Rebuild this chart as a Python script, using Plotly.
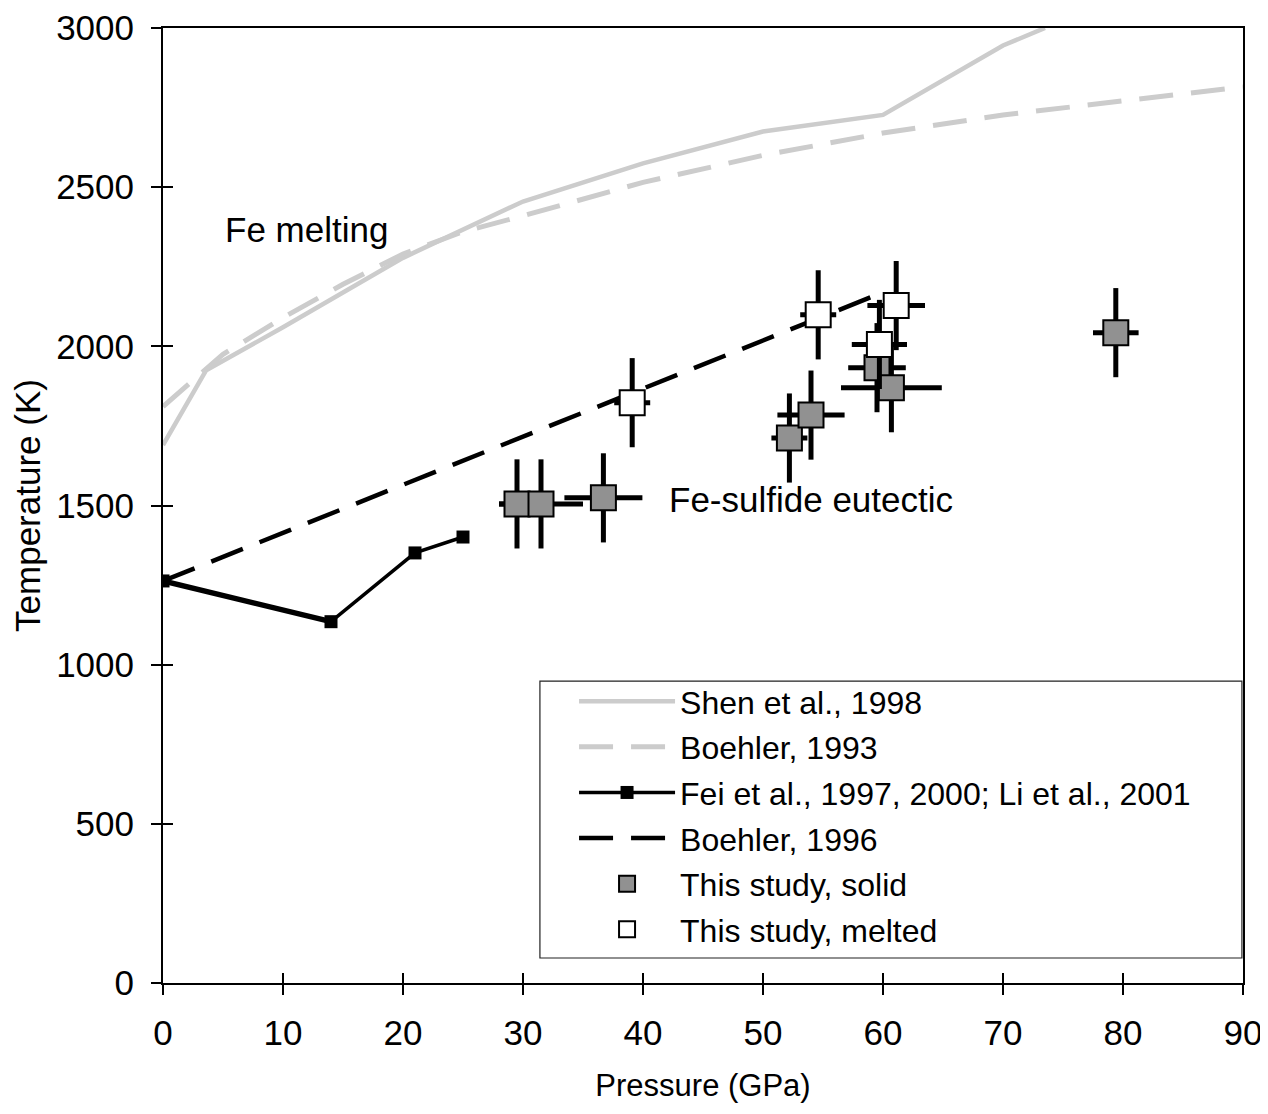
import plotly.graph_objects as go

# Shen et al., 1998 (Fe melting)
shen_p = [0, 3.6, 10, 20, 30, 40, 50, 60, 70, 73.5]
shen_t = [1690, 1925, 2060, 2278, 2455, 2575, 2675, 2727, 2945, 3000]

# Boehler, 1993 (Fe melting)
boe93_p = [0, 2, 5, 10, 15, 20, 25, 30, 40, 50, 60, 70, 80, 90]
boe93_t = [1811, 1878, 1975, 2090, 2195, 2290, 2360, 2410, 2515, 2600, 2670, 2727, 2772, 2815]

# Fei et al., 1997, 2000; Li et al., 2001
fei_p = [0, 14, 21, 25]
fei_t = [1263, 1135, 1351, 1401]

# Boehler, 1996 (Fe-sulfide eutectic)
boe96_p = [0, 59.5]
boe96_t = [1263, 2162]

# This study, solid
solid_p = [29.5, 31.5, 36.7, 52.2, 54.0, 59.5, 60.7, 79.4]
solid_t = [1505, 1505, 1524, 1712, 1784, 1933, 1870, 2043]
solid_perr = [1.5, 3.5, 3.25, 1.5, 2.8, 2.4, 4.2, 1.9]
solid_terr = [140, 140, 140, 140, 140, 140, 140, 140]

# This study, melted
melt_p = [39.1, 54.6, 59.7, 61.1]
melt_t = [1823, 2099, 2006, 2128]
melt_perr = [1.5, 1.5, 2.3, 2.4]
melt_terr = [140, 140, 140, 140]

FONT = "Arial, 'Liberation Sans', Helvetica, sans-serif"
GRAY = "#cccccc"
TXT = 35

fig = go.Figure()

fig.add_trace(go.Scatter(x=shen_p, y=shen_t, mode="lines", name="Shen et al., 1998",
                         line=dict(color=GRAY, width=4.5), legendgroup="a"))
fig.add_trace(go.Scatter(x=boe93_p, y=boe93_t, mode="lines", name="Boehler, 1993",
                         line=dict(color=GRAY, width=5, dash="34px,18px"), legendgroup="b"))
fig.add_trace(go.Scatter(x=fei_p[:2], y=fei_t[:2], mode="lines", showlegend=False,
                         line=dict(color="black", width=5.5), hoverinfo="skip"))
fig.add_trace(go.Scatter(x=fei_p, y=fei_t, mode="lines+markers",
                         name="Fei et al., 1997, 2000; Li et al., 2001",
                         line=dict(color="black", width=3.5),
                         marker=dict(symbol="square", size=13, color="black"), legendgroup="c"))
fig.add_trace(go.Scatter(x=boe96_p, y=boe96_t, mode="lines", name="Boehler, 1996",
                         line=dict(color="black", width=4.5, dash="34px,18px"), legendgroup="d"))
fig.add_trace(go.Scatter(x=solid_p, y=solid_t, mode="markers", name="This study, solid",
                         marker=dict(symbol="square", size=25, color="#919191",
                                     line=dict(color="black", width=2)),
                         error_x=dict(type="data", array=solid_perr, color="black", thickness=5, width=0),
                         error_y=dict(type="data", array=solid_terr, color="black", thickness=5, width=0),
                         legendgroup="e"))
fig.add_trace(go.Scatter(x=melt_p, y=melt_t, mode="markers", name="This study, melted",
                         marker=dict(symbol="square", size=25, color="white",
                                     line=dict(color="black", width=2)),
                         error_x=dict(type="data", array=melt_perr, color="black", thickness=5, width=0),
                         error_y=dict(type="data", array=melt_terr, color="black", thickness=5, width=0),
                         legendgroup="f"))

fig.add_annotation(x=5, y=2367, text="Fe melting", showarrow=False, xanchor="left", yanchor="middle",
                   font=dict(size=TXT, color="black", family=FONT))
fig.add_annotation(x=42, y=1520, text="Fe-sulfide eutectic", showarrow=False, xanchor="left",
                   yanchor="middle", font=dict(size=TXT, color="black", family=FONT))

# legend frame
fig.add_shape(type="rect", xref="paper", yref="paper", x0=0.349, x1=0.999, y0=0.0262, y1=0.3162,
              line=dict(color="#222", width=1.2), fillcolor="white", layer="below")

axis_common = dict(showgrid=False, zeroline=False, linecolor="black", linewidth=2,
                   tickcolor="black", tickwidth=2, ticklen=10, automargin=False,
                   ticklabeloverflow="allow",
                   tickfont=dict(size=TXT, color="black", family=FONT))

fig.update_layout(
    width=1260, height=1098,
    margin=dict(l=155, r=25, t=20, b=123),
    paper_bgcolor="white", plot_bgcolor="rgba(0,0,0,0)",
    font=dict(family=FONT, color="black", size=TXT),
    showlegend=True,
    xaxis=dict(range=[0, 90], dtick=10, ticks="outside", mirror=True,
               title=dict(text="Pressure (GPa)", font=dict(size=31, color="black"), standoff=23),
               ticklabelstandoff=8, **axis_common),
    yaxis=dict(range=[0, 3000], dtick=500, ticks="outside", mirror=True,
               title=dict(text="Temperature (K)", font=dict(size=35, color="black"), standoff=8),
               ticklabelstandoff=10, **axis_common),
    xaxis2=dict(overlaying="x", matches="x", anchor="y", side="bottom", ticks="inside",
                ticklen=10, tickwidth=2, tickcolor="black", showticklabels=False, showline=False,
                showgrid=False, zeroline=False, range=[0, 90], dtick=10, automargin=False),
    yaxis2=dict(overlaying="y", matches="y", anchor="x", side="left", ticks="inside",
                ticklen=10, tickwidth=2, tickcolor="black", showticklabels=False, showline=False,
                showgrid=False, zeroline=False, range=[0, 3000], dtick=500, automargin=False),
    legend=dict(x=0.3806, y=0.3236, xanchor="left", yanchor="top", bgcolor="rgba(0,0,0,0)",
                borderwidth=0, font=dict(size=32, color="black", family=FONT),
                itemwidth=96, tracegroupgap=1, traceorder="grouped"),
)

# invisible trace to activate the overlay axes for inner ticks
fig.add_trace(go.Scatter(x=[None], y=[None], xaxis="x2", yaxis="y2", showlegend=False,
                         hoverinfo="skip"))

fig.write_html("out.html")
